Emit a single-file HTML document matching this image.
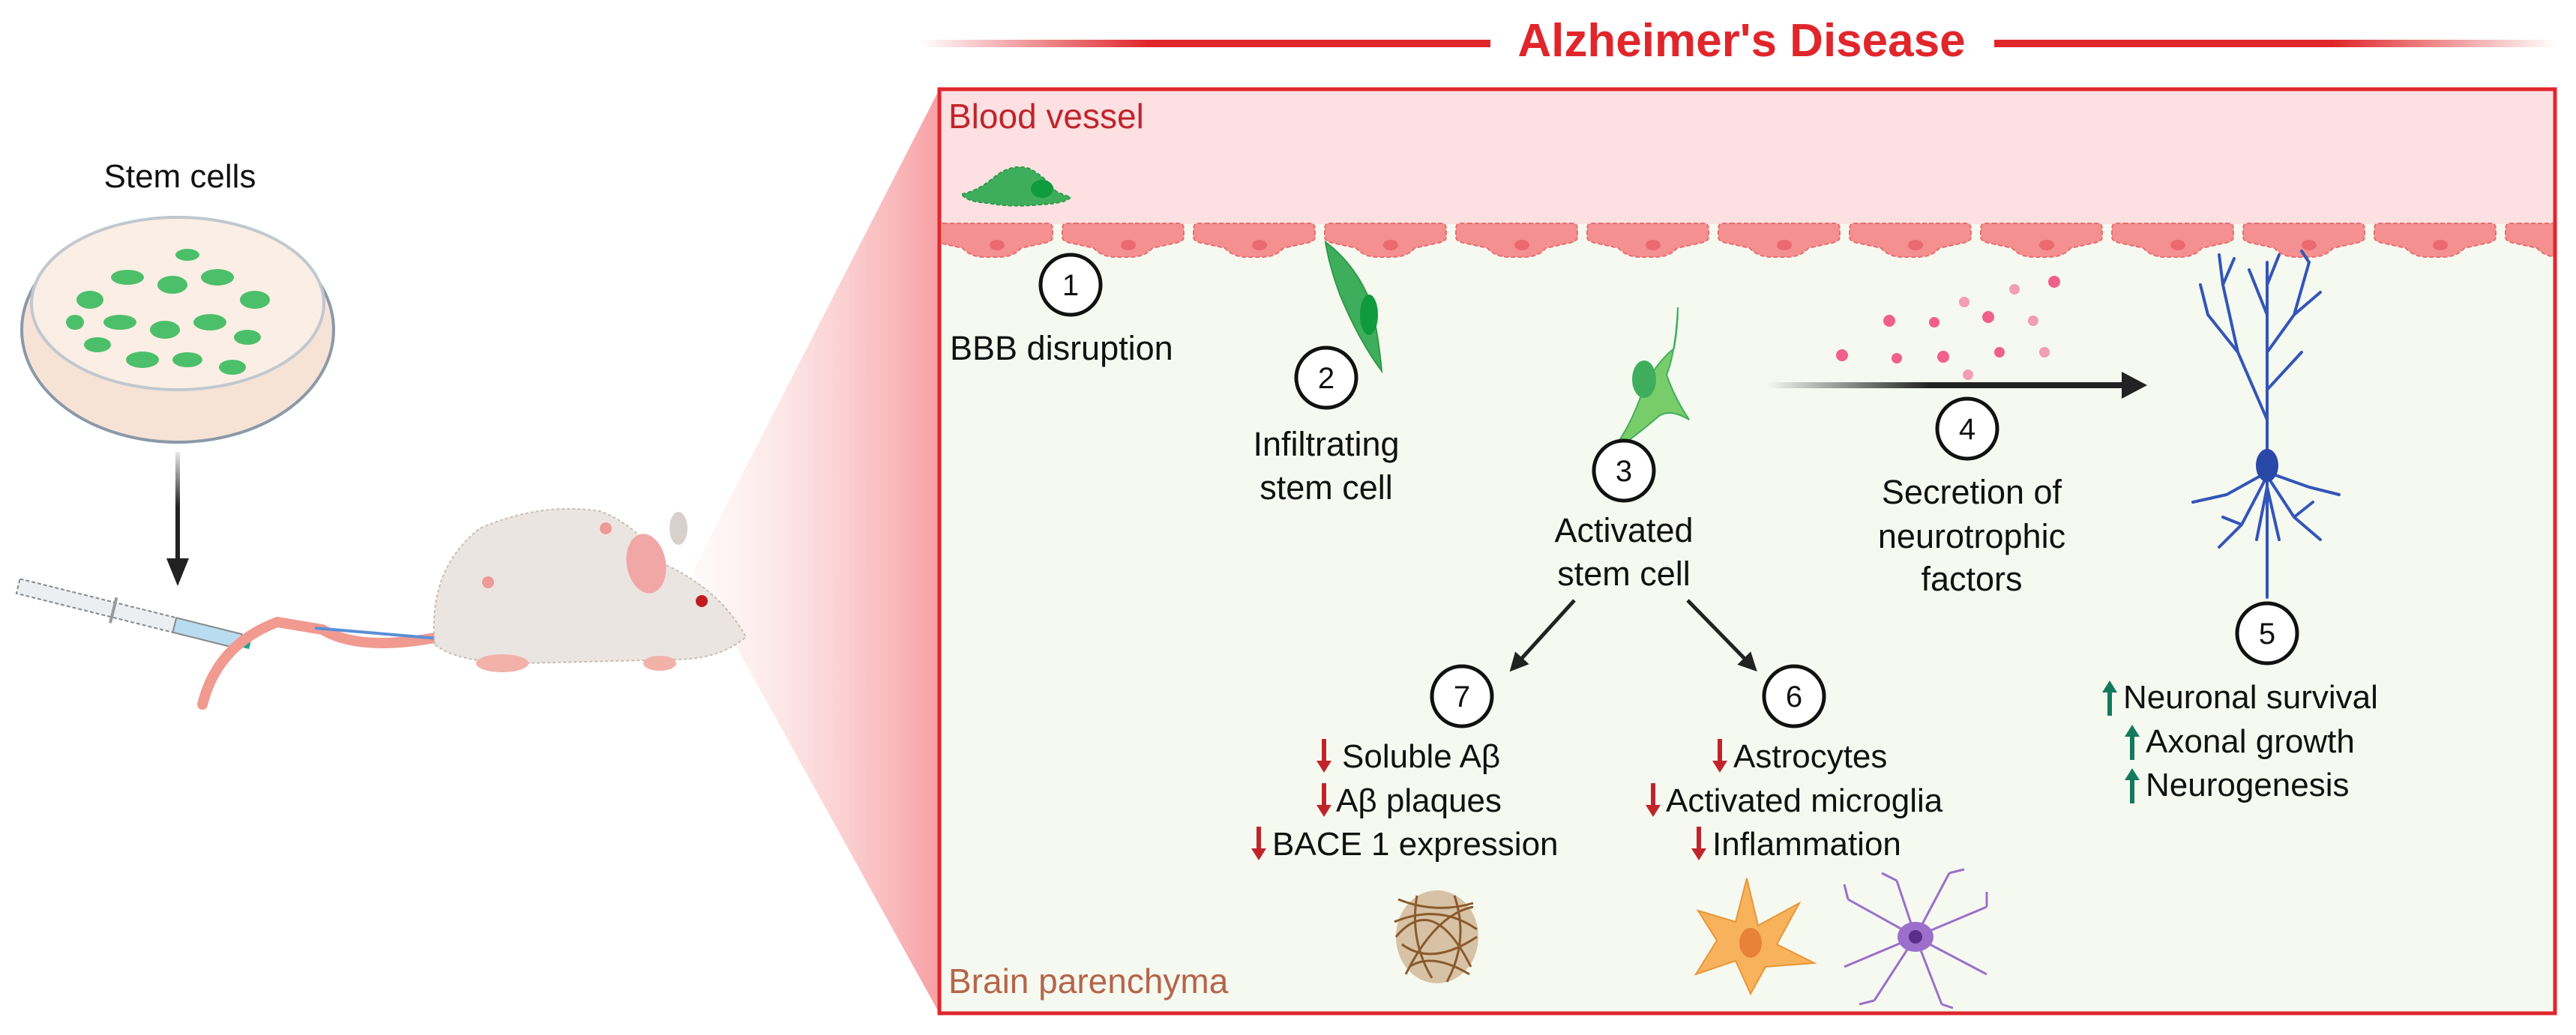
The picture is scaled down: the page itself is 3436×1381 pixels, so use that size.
<!DOCTYPE html>
<html><head><meta charset="utf-8"><style>
html,body{margin:0;padding:0;background:#fff}
svg{display:block}
text{font-family:"Liberation Sans",sans-serif}
</style></head><body>
<svg width="3436" height="1381" viewBox="0 0 3436 1381" xmlns="http://www.w3.org/2000/svg">
<defs>
<linearGradient id="tl" x1="0" x2="1"><stop offset="0" stop-color="#e0262b" stop-opacity="0"/><stop offset="0.4" stop-color="#e0262b"/><stop offset="1" stop-color="#e0262b"/></linearGradient>
<linearGradient id="tr" x1="0" x2="1"><stop offset="0" stop-color="#e0262b"/><stop offset="0.6" stop-color="#e0262b"/><stop offset="1" stop-color="#e0262b" stop-opacity="0"/></linearGradient>
<linearGradient id="fun" x1="0" x2="1"><stop offset="0" stop-color="#fde4e5" stop-opacity="0.2"/><stop offset="1" stop-color="#f79fa3"/></linearGradient>
<linearGradient id="ar" gradientUnits="userSpaceOnUse" x1="2356" y1="0" x2="2840" y2="0"><stop offset="0" stop-color="#222" stop-opacity="0"/><stop offset="0.45" stop-color="#222"/><stop offset="1" stop-color="#222"/></linearGradient>
<linearGradient id="va" gradientUnits="userSpaceOnUse" x1="0" y1="603" x2="0" y2="750"><stop offset="0" stop-color="#222" stop-opacity="0.1"/><stop offset="0.5" stop-color="#222"/><stop offset="1" stop-color="#222"/></linearGradient>
<clipPath id="bx"><rect x="1256" y="121" width="2150" height="1229"/></clipPath>
<marker id="ah" viewBox="0 0 10 10" refX="5" refY="5" markerWidth="5" markerHeight="5" orient="auto"><path d="M0,0 L10,5 L0,10 z" fill="#222"/></marker>
</defs>

<rect x="1228" y="53" width="760" height="10" fill="url(#tl)"/>
<rect x="2660" y="53" width="750" height="10" fill="url(#tr)"/>
<text x="2323" y="75" font-size="62" font-weight="bold" fill="#e0262b" text-anchor="middle">Alzheimer's Disease</text>

<polygon points="1253,119 925,760 1253,1352" fill="url(#fun)"/>

<rect x="1253" y="119" width="2155" height="1233" fill="#f5f9f0"/>
<rect x="1253" y="119" width="2155" height="180" fill="#fde0e2"/>
<g clip-path="url(#bx)" fill="#f4908f" stroke="#e86d70" stroke-width="2" stroke-dasharray="6 3">
<g id="ec"><path d="M1258,298 h140 q6,0 6,8 v10 q0,6 -10,8 l-32,7 q-10,12 -30,12 h-18 q-20,0 -30,-12 l-32,-7 q-10,-2 -10,-8 v-10 q0,-8 6,-8 z"/><ellipse cx="1330" cy="327" rx="10" ry="7" fill="#ea6a70" stroke="none"/></g>
<use href="#ec" x="175"/><use href="#ec" x="350"/><use href="#ec" x="525"/><use href="#ec" x="700"/><use href="#ec" x="875"/><use href="#ec" x="1050"/><use href="#ec" x="1225"/><use href="#ec" x="1400"/><use href="#ec" x="1575"/><use href="#ec" x="1750"/><use href="#ec" x="1925"/><use href="#ec" x="2100"/>
</g>
<rect x="1253" y="119" width="2155" height="1233" fill="none" stroke="#e0262b" stroke-width="5"/>

<text x="1265" y="171" font-size="46" fill="#c0242a">Blood vessel</text>
<text x="1265" y="1325" font-size="46" fill="#b5654a">Brain parenchyma</text>

<path d="M1283,259 q20,-4 40,-20 q25,-22 50,-14 q20,10 35,30 q12,6 20,8 q-5,8 -40,10 q-40,4 -70,-2 q-30,-2 -35,-12z" fill="#3fae5c" stroke="#2f9a4a" stroke-width="2" stroke-dasharray="5 3"/>
<ellipse cx="1390" cy="252" rx="15" ry="12" fill="#0f9a3e"/>
<path d="M1768,323 q40,30 60,80 q10,40 15,92 q-30,-40 -55,-100 q-15,-40 -20,-72z" fill="#3fae5c" stroke="#2f9a4a" stroke-width="2"/>
<ellipse cx="1826" cy="420" rx="12" ry="27" fill="#0f9a3e"/>
<path d="M2238,410 q-3,60 -15,90 q10,30 30,60 q-25,-15 -40,-5 q-35,30 -65,50 q30,-40 45,-90 q20,-35 40,-50 q5,-30 5,-55z" fill="#79cc6a" stroke="#3fae5c" stroke-width="2"/>
<ellipse cx="2193" cy="506" rx="16" ry="25" fill="#3fae5c"/>

<g fill="#f0608a">
<circle cx="2740" cy="376" r="8"/><circle cx="2687" cy="386" r="7" opacity=".6"/><circle cx="2620" cy="403" r="7" opacity=".6"/><circle cx="2652" cy="423" r="8"/><circle cx="2520" cy="428" r="8"/><circle cx="2580" cy="430" r="7"/><circle cx="2712" cy="428" r="7" opacity=".6"/><circle cx="2457" cy="474" r="8"/><circle cx="2530" cy="478" r="7"/><circle cx="2592" cy="476" r="8"/><circle cx="2667" cy="470" r="7"/><circle cx="2727" cy="470" r="7" opacity=".6"/><circle cx="2625" cy="500" r="7" opacity=".6"/>
</g>
<rect x="2356" y="510" width="480" height="8" fill="url(#ar)"/>
<path d="M2830,496 L2864,514 L2830,532z" fill="#222"/>

<g stroke="#3355b8" stroke-width="4" fill="none" stroke-linecap="round">
<path d="M3024,797 V350"/>
<path d="M3024,560 L2985,470 L2965,380 M2985,470 L2945,420 M2965,380 L2960,340 M2965,380 L2980,345 M3024,470 L3060,420 L3080,350 M3060,420 L3095,390 M3080,350 L3070,335 M3024,420 L3000,360 M3024,380 L3040,340 M3024,520 L3070,470 M2945,420 L2935,380"/>
<path d="M3024,630 L2970,660 L2925,670 M3024,635 L2990,700 L2960,730 M3024,635 L3060,690 L3095,720 M3024,630 L3080,650 L3120,660 M2990,700 L2965,690 M3060,690 L3085,670 M3024,650 L3010,720 M3024,650 L3040,720"/>
</g>
<ellipse cx="3024" cy="621" rx="15" ry="22" fill="#2a48a8"/>

<g fill="#fff" stroke="#111" stroke-width="5">
<circle cx="1428" cy="380" r="40"/><circle cx="1769" cy="504" r="40"/><circle cx="2166" cy="628" r="40"/><circle cx="2624" cy="572" r="40"/><circle cx="3024" cy="845" r="40"/><circle cx="1950" cy="929" r="40"/><circle cx="2393" cy="929" r="40"/>
</g>
<g font-size="40" text-anchor="middle" fill="#111">
<text x="1428" y="394">1</text><text x="1769" y="518">2</text><text x="2166" y="642">3</text><text x="2624" y="586">4</text><text x="3024" y="859">5</text><text x="1950" y="943">7</text><text x="2393" y="943">6</text>
</g>

<g font-size="45" fill="#111" text-anchor="middle">
<text x="1267" y="480" text-anchor="start">BBB disruption</text>
<text x="1769" y="608">Infiltrating</text><text x="1769" y="666">stem cell</text>
<text x="2166" y="723">Activated</text><text x="2166" y="781">stem cell</text>
<text x="2630" y="672">Secretion of</text><text x="2630" y="731">neurotrophic</text><text x="2630" y="788">factors</text>
</g>

<line x1="2100" y1="801" x2="2022" y2="887" stroke="#222" stroke-width="5" marker-end="url(#ah)"/>
<line x1="2251" y1="801" x2="2335" y2="887" stroke="#222" stroke-width="5" marker-end="url(#ah)"/>

<g font-size="44" fill="#111">
<text x="1790" y="1024">Soluble Aβ</text>
<text x="1782" y="1083">Aβ plaques</text>
<text x="1697" y="1141">BACE 1 expression</text>
<text x="2312" y="1024">Astrocytes</text>
<text x="2222" y="1083">Activated microglia</text>
<text x="2284" y="1141">Inflammation</text>
<text x="2832" y="945">Neuronal survival</text>
<text x="2862" y="1004">Axonal growth</text>
<text x="2862" y="1062">Neurogenesis</text>
</g>
<g stroke="#c0242a" stroke-width="6" fill="#c0242a">
<line x1="1766" y1="986" x2="1766" y2="1018"/><path d="M1756,1015 h20 l-10,16z" stroke="none"/>
<line x1="1766" y1="1045" x2="1766" y2="1077"/><path d="M1756,1074 h20 l-10,16z" stroke="none"/>
<line x1="1679" y1="1103" x2="1679" y2="1135"/><path d="M1669,1132 h20 l-10,16z" stroke="none"/>
<line x1="2294" y1="986" x2="2294" y2="1018"/><path d="M2284,1015 h20 l-10,16z" stroke="none"/>
<line x1="2205" y1="1045" x2="2205" y2="1077"/><path d="M2195,1074 h20 l-10,16z" stroke="none"/>
<line x1="2266" y1="1103" x2="2266" y2="1135"/><path d="M2256,1132 h20 l-10,16z" stroke="none"/>
</g>
<g stroke="#137a5c" stroke-width="6" fill="#137a5c">
<line x1="2814" y1="955" x2="2814" y2="920"/><path d="M2804,924 h20 l-10,-16z" stroke="none"/>
<line x1="2844" y1="1014" x2="2844" y2="979"/><path d="M2834,983 h20 l-10,-16z" stroke="none"/>
<line x1="2844" y1="1072" x2="2844" y2="1037"/><path d="M2834,1041 h20 l-10,-16z" stroke="none"/>
</g>

<g stroke="#8a5a2b" stroke-width="3" fill="none">
<ellipse cx="1917" cy="1250" rx="55" ry="62" fill="#b98b5a" stroke="none" opacity=".5"/>
<path d="M1865,1200 q50,20 100,5 M1860,1230 q60,-25 110,10 M1870,1260 q40,30 100,-10 M1880,1290 q30,-20 80,10 M1890,1195 q-10,60 20,110 M1940,1195 q20,60 -10,115 M1862,1250 q50,-60 100,40 M1875,1300 q40,-80 90,-90"/>
</g>
<path d="M2330,1172 L2345,1235 L2400,1205 L2370,1260 L2420,1285 L2355,1290 L2335,1326 L2315,1282 L2262,1300 L2290,1255 L2265,1215 L2315,1230 Z" fill="#f8b25c" stroke="#e89638" stroke-width="2"/>
<ellipse cx="2335" cy="1258" rx="15" ry="20" fill="#e8813a"/>
<g stroke="#9b6fcb" stroke-width="3" fill="none">
<path d="M2555,1250 L2530,1175 M2555,1250 L2600,1165 M2555,1250 L2650,1210 M2555,1250 L2650,1300 M2555,1250 L2590,1340 M2555,1250 L2500,1335 M2555,1250 L2460,1290 M2555,1250 L2465,1200 M2530,1175 l-20,-10 M2600,1165 l20,-5 M2650,1210 l0,-20 M2500,1335 l-20,5 M2465,1200 l-5,-20 M2590,1340 l15,5"/>
</g>
<ellipse cx="2555" cy="1250" rx="24" ry="20" fill="#9b6fcb"/><ellipse cx="2555" cy="1250" rx="9" ry="9" fill="#5a2d8a"/>

<text x="240" y="250" font-size="44" fill="#111" text-anchor="middle">Stem cells</text>
<ellipse cx="237" cy="440" rx="208" ry="150" fill="#f7e3d6" stroke="#8a99a8" stroke-width="4"/>
<ellipse cx="237" cy="405" rx="195" ry="115" fill="#fbeee4" stroke="#c0c8d0" stroke-width="4"/>
<g fill="#4cbf6a">
<ellipse cx="120" cy="400" rx="18" ry="12"/><ellipse cx="170" cy="370" rx="22" ry="10"/><ellipse cx="230" cy="380" rx="20" ry="12"/><ellipse cx="290" cy="370" rx="22" ry="11"/><ellipse cx="340" cy="400" rx="20" ry="12"/><ellipse cx="160" cy="430" rx="22" ry="10"/><ellipse cx="220" cy="440" rx="20" ry="12"/><ellipse cx="280" cy="430" rx="22" ry="11"/><ellipse cx="330" cy="450" rx="18" ry="10"/><ellipse cx="130" cy="460" rx="18" ry="10"/><ellipse cx="190" cy="480" rx="22" ry="11"/><ellipse cx="250" cy="480" rx="20" ry="10"/><ellipse cx="310" cy="490" rx="18" ry="10"/><ellipse cx="100" cy="430" rx="12" ry="10"/><ellipse cx="250" cy="340" rx="16" ry="8"/>
</g>
<rect x="234" y="603" width="6" height="145" fill="url(#va)"/>
<path d="M222,745 L252,745 L237,782z" fill="#222"/>

<g transform="rotate(14 24 783)">
<rect x="24" y="772" width="215" height="20" fill="#eceff2" stroke="#888" stroke-width="2" stroke-dasharray="5 3"/>
<rect x="239" y="772" width="90" height="20" fill="#b9dcf0" stroke="#888" stroke-width="2"/>
<rect x="329" y="775" width="14" height="14" fill="#1aa58a"/>
<line x1="155" y1="765" x2="155" y2="800" stroke="#999" stroke-width="4"/>
</g>
<path d="M585,850 Q480,870 430,840 L370,830 Q290,860 270,940" fill="none" stroke="#f19a90" stroke-width="14" stroke-linecap="round"/>
<path d="M585,852 L420,838" stroke="#5a8fd8" stroke-width="4"/>
<path d="M580,860 Q570,760 640,705 Q720,670 800,682 Q850,700 880,750 Q960,785 995,850 Q960,880 900,880 L700,885 Q610,885 580,860z" fill="#ebe5e1" stroke="#c9beb6" stroke-width="2" stroke-dasharray="4 3"/>
<ellipse cx="862" cy="752" rx="26" ry="40" fill="#f2a7a7" transform="rotate(-10 862 752)"/>
<ellipse cx="905" cy="705" rx="12" ry="22" fill="#d8d0cc"/>
<circle cx="936" cy="802" r="8" fill="#c01c20"/>
<circle cx="808" cy="705" r="8" fill="#f07a7a" opacity=".7"/>
<circle cx="651" cy="777" r="8" fill="#f07a7a" opacity=".7"/>
<ellipse cx="670" cy="885" rx="35" ry="12" fill="#f2b2aa"/>
<ellipse cx="880" cy="885" rx="22" ry="10" fill="#f2b2aa"/>
</svg>
</body></html>
